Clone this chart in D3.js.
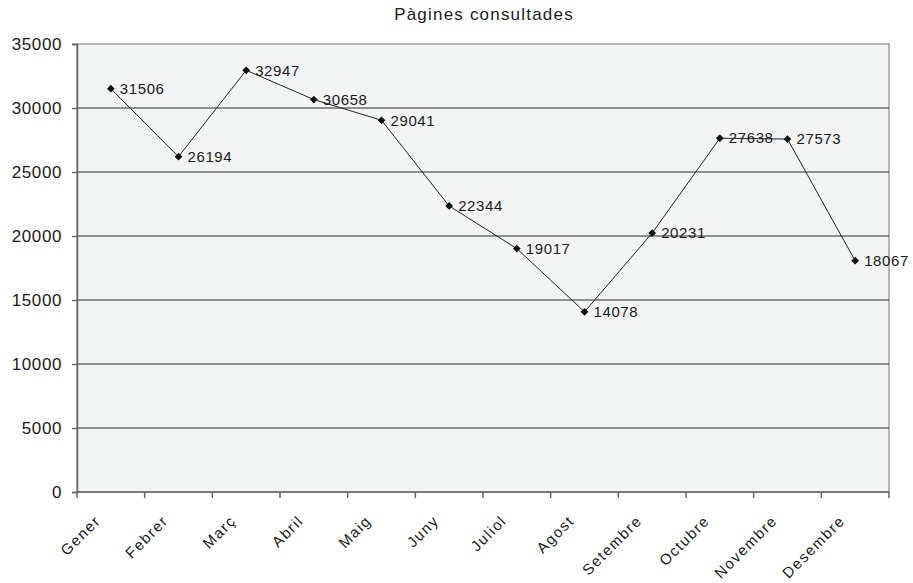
<!DOCTYPE html>
<html><head><meta charset="utf-8">
<script src="https://cdn.jsdelivr.net/npm/d3@7"></script>
<style>body{margin:0;background:#fff;} text{font-family:"Liberation Sans",Arial,sans-serif;fill:#1a1a1a;}</style>
</head><body>
<svg id="c" width="913" height="583"></svg>
<script>
const months = ["Gener","Febrer","Març","Abril","Maig","Juny","Juliol","Agost","Setembre","Octubre","Novembre","Desembre"];
const values = [31506,26194,32947,30658,29041,22344,19017,14078,20231,27638,27573,18067];
const yTicks = [0,5000,10000,15000,20000,25000,30000,35000];
const title = "Pàgines consultades";

const svg = d3.select("#c");
const L=77, R=889, T=44, B=492;
const x = d3.scaleBand().domain(months).range([L,R]);
const y = d3.scaleLinear().domain([0,35000]).range([B,T]);

svg.append("rect").attr("x",L).attr("y",T).attr("width",R-L).attr("height",B-T)
  .attr("fill","#f3f4f4").attr("stroke","#888").attr("stroke-width",1.2);

svg.append("g").selectAll("line").data(yTicks.filter(d=>d>0&&d<35000)).join("line")
  .attr("x1",L).attr("x2",R).attr("y1",d=>y(d)).attr("y2",d=>y(d))
  .attr("stroke","#2a2a2a").attr("stroke-width",1.2);

// y axis
const ya = svg.append("g").attr("transform",`translate(${L},0)`)
  .call(d3.axisLeft(y).tickValues(yTicks).tickFormat(d3.format("d")).tickSize(5).tickPadding(10));
ya.select(".domain").attr("stroke","#666").attr("stroke-width",1.5);
ya.selectAll(".tick line").attr("stroke","#666").attr("stroke-width",1.5);
ya.selectAll("text").attr("font-size",17).attr("letter-spacing","0.6px").attr("fill","#1a1a1a")
  .style("font-family","'Liberation Sans',Arial,sans-serif");

// x axis
const xa = svg.append("g").attr("transform",`translate(0,${B})`);
xa.append("line").attr("x1",L).attr("x2",R).attr("stroke","#666").attr("stroke-width",1.5);
const bounds = d3.range(months.length+1).map(i=>L+i*x.step());
xa.selectAll(".tk").data(bounds).join("line").attr("class","tk")
  .attr("x1",d=>d).attr("x2",d=>d).attr("y1",0).attr("y2",6).attr("stroke","#666").attr("stroke-width",1.5);
xa.selectAll("text").data(months).join("text")
  .attr("transform",d=>`translate(${x(d)+x.bandwidth()/2-13},${26}) rotate(-45)`)
  .attr("text-anchor","end").attr("dy","0.35em").attr("font-size",15).attr("letter-spacing","1.5px").text(d=>d);

// line
const cx = d=>x(d)+x.bandwidth()/2;
svg.append("path").datum(months.map((m,i)=>[cx(m),y(values[i])]))
  .attr("d",d3.line()).attr("fill","none").attr("stroke","#222").attr("stroke-width",1);
svg.append("g").selectAll("path").data(months).join("path")
  .attr("d",d3.symbol(d3.symbolSquare,30))
  .attr("transform",(d,i)=>`translate(${cx(d)},${y(values[i])}) rotate(45)`).attr("fill","#111");
svg.append("g").selectAll("text").data(months).join("text")
  .attr("x",d=>cx(d)+9).attr("y",(d,i)=>y(values[i])).attr("dy","0.35em")
  .attr("font-size",15).attr("letter-spacing","0.6px").text((d,i)=>values[i]);

svg.append("text").attr("x",484).attr("y",20).attr("text-anchor","middle").attr("font-size",17)
  .attr("letter-spacing","1.2px").text(title);
</script>
</body></html>
